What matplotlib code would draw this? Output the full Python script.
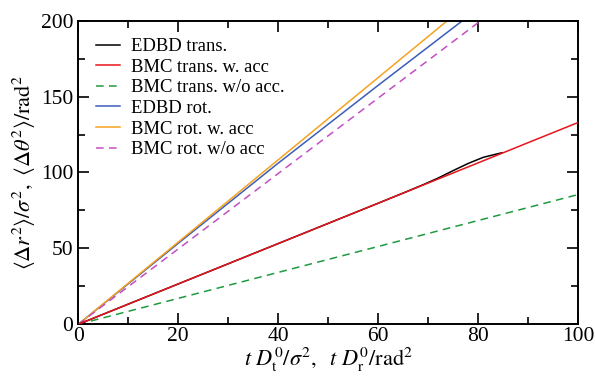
import matplotlib
matplotlib.use("Agg")
import matplotlib.pyplot as plt
import numpy as np
from matplotlib.ticker import MultipleLocator

plt.rcParams['font.family'] = ['Liberation Serif', 'DejaVu Serif']
plt.rcParams['mathtext.fontset'] = 'stix'

# Data
x_edbd_trans = [0, 20, 40, 60, 65, 69, 72, 75, 78, 81, 84.7]
y_edbd_trans = [0, 26.6, 53.2, 79.8, 86.5, 92.0, 96.4, 101.3, 106.0, 110.0, 113.0]
x_bmc_trans_acc = [0, 20, 40, 60, 80, 100]
y_bmc_trans_acc = [0, 26.6, 53.2, 79.8, 106.4, 133.0]
x_bmc_trans_noacc = [0, 20, 40, 60, 80, 100]
y_bmc_trans_noacc = [0, 17.1, 34.2, 51.3, 68.4, 85.5]
x_edbd_rot = [0, 20, 40, 60, 80]
y_edbd_rot = [0, 53.4, 106.2, 157.5, 208.0]
x_bmc_rot_acc = [0, 20, 40, 60, 80]
y_bmc_rot_acc = [0, 54.2, 108.4, 162.6, 216.8]
x_bmc_rot_noacc = [0, 20, 40, 60, 80, 85]
y_bmc_rot_noacc = [0, 49.7, 99.4, 149.1, 198.8, 211.2]

labels = ["EDBD trans.", "BMC trans. w. acc", "BMC trans. w/o acc.",
          "EDBD rot.", "BMC rot. w. acc", "BMC rot. w/o acc"]

fig = plt.figure(figsize=(5.95, 3.76), dpi=100)
ax = fig.add_axes([0.1316, 0.1375, 0.8404, 0.8075])

lw = 1.1
ax.plot(x_edbd_trans, y_edbd_trans, color='black', lw=lw, label=labels[0], zorder=3)
ax.plot(x_bmc_trans_acc, y_bmc_trans_acc, color='#e8141c', lw=lw, label=labels[1], zorder=4)
ax.plot(x_bmc_trans_noacc, y_bmc_trans_noacc, color='#1f9a40', lw=lw, ls=(0, (5, 3.5)), label=labels[2])
ax.plot(x_edbd_rot, y_edbd_rot, color='#3c5db8', lw=lw, label=labels[3])
ax.plot(x_bmc_rot_acc, y_bmc_rot_acc, color='#f5a21f', lw=lw, label=labels[4])
ax.plot(x_bmc_rot_noacc, y_bmc_rot_noacc, color='#c34fc3', lw=lw, ls=(0, (5, 3.5)), label=labels[5])

ax.set_xlim(0, 100)
ax.set_ylim(0, 200)
ax.xaxis.set_major_locator(MultipleLocator(20))
ax.xaxis.set_minor_locator(MultipleLocator(10))
ax.yaxis.set_major_locator(MultipleLocator(50))
ax.yaxis.set_minor_locator(MultipleLocator(25))
ax.tick_params(which='both', direction='in', top=True, right=True, labelsize=15.5, width=1.2)
ax.tick_params(which='major', length=8)
ax.tick_params(which='minor', length=5)
ax.tick_params(axis='x', pad=2)
for s in ax.spines.values():
    s.set_linewidth(1.4)

ax.set_xlabel(r'$t\ D_\mathrm{t}^0/\sigma^2,\ \ t\ D_\mathrm{r}^0/\mathrm{rad}^2$', fontsize=16, labelpad=0)
ax.set_ylabel(r'$\langle\Delta r^2\rangle/\sigma^2,\ \langle\Delta\theta^2\rangle/\mathrm{rad}^2$', fontsize=16, labelpad=2)

ax.legend(loc='upper left', frameon=False, fontsize=13.4, handlelength=1.25,
          handletextpad=0.6, labelspacing=0.19, borderaxespad=0.0, borderpad=0.0,
          bbox_to_anchor=(0.036, 0.942))

fig.savefig('out.png', dpi=100)
